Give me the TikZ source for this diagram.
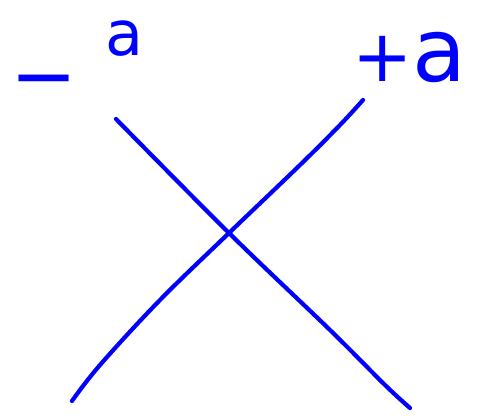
\documentclass[tikz,border=0pt]{standalone}
\usepackage{fontspec}
\setmainfont{DejaVu Sans}
\definecolor{pen}{RGB}{0,0,255}
\tikzset{
  stroke/.style={draw=pen, line width=4.2pt, line cap=round, line join=round},
  lbl/.style={text=pen, inner sep=0pt, anchor=base west}
}
\begin{document}
\begin{tikzpicture}[x=1pt,y=-1pt]
\useasboundingbox (0,0) rectangle (495,419);
\fill[white] (0,0) rectangle (495,419);
% crossing lines
\draw[stroke] plot[smooth, tension=0.6] coordinates {(116,119) (229,233) (330,330) (385,385) (410,408)};
\draw[stroke] plot[smooth, tension=0.6] coordinates {(72,401) (100,365) (160,300) (229,233) (300,165) (340,125) (363,100)};
% labels
\node[lbl] (minus) at (10,104) {{\fontsize{80}{90}\selectfont −}\hspace{28pt}\raisebox{48pt}{\fontsize{62}{70}\selectfont a}};
\node[lbl] (plus) at (352,82) {{\fontsize{72}{80}\selectfont +}{\fontsize{88}{96}\selectfont a}};
\end{tikzpicture}
\end{document}
